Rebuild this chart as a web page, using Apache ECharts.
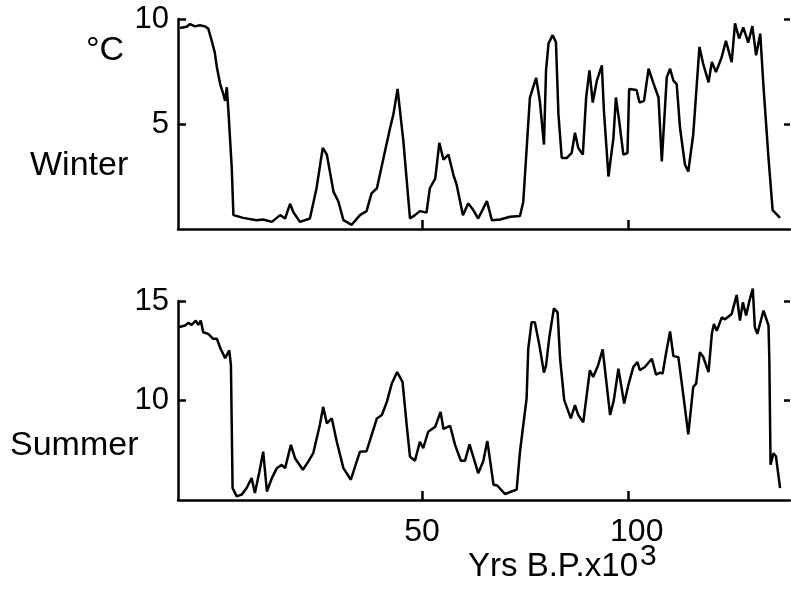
<!DOCTYPE html>
<html>
<head>
<meta charset="utf-8">
<script src="https://cdn.jsdelivr.net/npm/echarts@6/dist/echarts.min.js"></script>
<style>
  html, body { margin: 0; padding: 0; background: #fff; }
  #main { width: 791px; height: 599px; }
</style>
</head>
<body>
<div id="main"></div>
<script>
// ages in kyr BP, temperatures in deg C
var winterAge = [-8.5,-6.9,-6.1,-4.9,-3.7,-2.5,-1.7,-0.9,-0.1,0.4,
  1.2,2.0,2.4,2.8,3.2,4.0,4.4,6.8,10.0,11.6,
  13.7,15.7,16.9,18.1,18.9,20.5,22.9,24.5,26.0,27.0,
  28.6,29.8,31.0,33.0,35.0,36.6,37.8,39.1,40.7,42.3,
  43.1,44.1,45.5,47.1,48.3,49.5,51.1,51.9,53.2,54.2,
  55.2,56.4,57.6,58.4,59.9,61.2,62.4,63.6,65.7,66.9,
  68.9,71.3,73.7,74.5,76.1,77.6,78.5,79.5,80.0,80.6,
  81.6,82.4,83.0,83.8,85.0,86.2,87.0,87.8,88.9,89.7,
  90.5,91.3,92.3,93.5,94.0,95.1,96.3,96.9,97.7,98.7,
  99.7,100.1,101.9,102.6,103.7,104.8,105.9,107.2,108.0,109.2,
  110.0,110.8,111.6,112.4,113.6,114.4,115.6,117.1,118.0,119.3,
  120.1,121.1,122.5,123.5,124.9,125.7,126.7,127.7,128.9,129.9,
  130.8,131.8,132.6,133.8,134.8,136.6];
var winterTemp = [9.57,9.63,9.76,9.65,9.7,9.65,9.55,9.0,8.4,7.7,
  6.9,6.4,6.1,6.75,5.6,2.9,0.66,0.53,0.42,0.45,
  0.34,0.66,0.5,1.2,0.8,0.34,0.5,1.94,3.86,3.54,
  1.78,1.3,0.42,0.2,0.66,0.85,1.7,1.94,3.38,4.82,
  5.47,6.67,4.18,0.5,0.66,0.85,0.78,1.94,2.4,4.1,
  3.3,3.54,2.58,2.1,0.66,1.22,0.9,0.5,1.33,0.42,
  0.45,0.58,0.62,1.3,6.26,7.2,6.1,4.02,7.55,8.83,
  9.23,8.9,5.47,3.38,3.38,3.62,4.58,3.86,3.54,6.26,
  7.55,6.02,7.07,7.79,5.62,2.5,4.34,6.26,5.14,3.54,
  3.62,6.67,6.62,6.02,6.1,7.63,6.98,6.26,3.22,7.23,
  7.63,7.07,6.9,4.82,3.06,2.74,4.5,8.67,7.87,6.98,
  7.95,7.47,8.19,8.96,7.95,9.79,9.07,9.6,8.87,9.66,
  8.27,9.3,6.75,3.38,0.9,0.53];

var summerAge = [-8.9,-7.3,-6.5,-5.7,-4.7,-4.1,-3.5,-2.9,-1.7,-0.5,
  0.4,1.3,2.4,2.8,3.4,3.8,4.2,5.2,6.4,7.6,
  8.8,9.6,10.7,11.6,12.5,13.7,14.9,16.1,16.9,18.3,
  19.3,21.2,22.5,23.7,25.3,26.1,27.0,28.2,29.4,31.0,
  32.8,35.0,36.6,39.1,40.3,41.5,42.7,44.0,45.3,46.3,
  47.1,48.3,49.5,50.3,51.5,53.2,54.5,55.2,56.8,58.0,
  59.4,60.4,61.5,63.6,64.8,65.8,67.3,68.2,70.1,71.3,
  72.9,73.7,75.3,75.7,76.5,77.3,78.4,79.5,80.0,80.8,
  81.9,82.8,83.4,84.4,86.0,87.0,87.8,89.0,90.6,91.4,
  92.6,93.7,94.5,95.5,96.4,97.5,98.9,99.9,101.1,102.1,
  102.7,103.9,105.6,106.6,107.6,108.2,109.0,110.0,110.8,112.0,
  113.2,114.4,115.6,116.3,117.2,118.0,119.3,120.1,120.6,121.3,
  122.5,123.3,124.9,126.1,126.9,127.6,128.4,129.2,130.0,130.5,
  131.1,132.6,133.8,134.0,134.3,135.0,135.6,136.6];
var summerTemp = [13.68,13.77,13.9,13.8,14.02,13.8,14.02,13.43,13.35,13.1,
  13.1,12.6,12.13,12.05,12.52,11.77,5.6,5.18,5.27,5.6,
  6.1,5.35,6.43,7.43,5.43,6.1,6.6,6.77,6.6,7.77,
  7.1,6.52,6.93,7.35,8.77,9.68,8.85,9.1,7.93,6.6,
  6.02,7.43,7.45,9.1,9.27,9.93,10.85,11.43,10.93,8.77,
  7.18,6.97,7.93,7.6,8.43,8.68,9.43,8.57,8.73,7.77,
  6.97,6.97,7.8,6.35,6.93,7.97,5.77,5.73,5.3,5.4,
  5.52,7.43,10.1,12.6,13.93,13.93,12.77,11.4,11.75,13.18,
  14.63,14.43,12.1,10.02,9.1,9.77,9.27,8.9,11.52,11.18,
  11.77,12.57,11.1,9.27,10.02,11.6,9.85,10.77,11.68,11.93,
  11.52,11.68,12.1,11.3,11.4,11.35,12.35,13.47,12.23,12.18,
  10.27,8.3,10.68,10.85,12.43,12.2,11.43,13.35,13.85,13.5,
  14.18,14.08,14.35,15.3,14.02,14.93,14.27,15.02,15.63,13.68,
  13.35,14.52,13.77,12.1,6.77,7.35,7.2,5.6];

var xTicks = [50, 100];
var winterTicks = [5, 10];
var summerTicks = [10, 15];

function pairs(xs, ys) {
  return xs.map(function (x, i) { return [x, ys[i]]; });
}

var FONT = '"Liberation Sans", Arial, Helvetica, sans-serif';
var axisLine = { show: true, onZero: false, lineStyle: { color: '#000', width: 2.5 } };

function xAxisFor(grid, labels) {
  return {
    type: 'value', gridIndex: grid, min: -9, max: 139,
    axisLine: axisLine,
    axisTick: { show: true, inside: true, length: 9, customValues: xTicks, lineStyle: { color: '#000', width: 2.5 } },
    axisLabel: {
      show: labels, customValues: xTicks, margin: 16,
      color: '#000', fontSize: 32, fontFamily: FONT,
      formatter: function (v) { return v === 100 ? '{r|100}' : '{n|' + v + '}'; },
      rich: {
        n: { fontSize: 32, fontFamily: FONT, color: '#000' },
        r: { fontSize: 32, fontFamily: FONT, color: '#000', padding: [0, 0, 0, 16] }
      }
    },
    splitLine: { show: false }
  };
}

function yAxisFor(grid, min, max, ticks, right) {
  return {
    type: 'value', gridIndex: grid, min: min, max: max,
    position: right ? 'right' : 'left',
    axisLine: right ? { show: false, onZero: false } : axisLine,
    axisTick: { show: true, inside: true, length: right ? 6 : 8, customValues: ticks, lineStyle: { color: '#000', width: 2.5 } },
    axisLabel: { show: !right, customValues: ticks, margin: 9, color: '#000', fontSize: 31, fontFamily: FONT },
    splitLine: { show: false }
  };
}

var myChart = echarts.init(document.getElementById('main'));
var option = {
  animation: false,
  backgroundColor: '#fff',
  grid: [
    { left: 178, right: 1, top: 19, height: 210 },
    { left: 178, right: 1, top: 301, height: 199 }
  ],
  xAxis: [xAxisFor(0, false), xAxisFor(1, true)],
  yAxis: [
    yAxisFor(0, 0, 10, winterTicks, false),
    yAxisFor(0, 0, 10, winterTicks, true),
    yAxisFor(1, 5, 15, summerTicks, false),
    yAxisFor(1, 5, 15, summerTicks, true)
  ],
  graphic: [
    { type: 'text', left: 86, top: 34, style: { text: '°C', fontSize: 34, fontFamily: FONT, fill: '#000' } },
    { type: 'text', left: 30, top: 149, style: { text: 'Winter', fontSize: 34, fontFamily: FONT, fill: '#000' } },
    { type: 'text', left: 10, top: 429, style: { text: 'Summer', fontSize: 34, fontFamily: FONT, fill: '#000' } },
    { type: 'text', left: 468, top: 550, style: { text: 'Yrs B.P.x10', fontSize: 33, fontFamily: FONT, fill: '#000' } },
    { type: 'text', left: 640, top: 542, style: { text: '3', fontSize: 30, fontFamily: FONT, fill: '#000' } }
  ],
  series: [
    {
      name: 'Winter', type: 'line', xAxisIndex: 0, yAxisIndex: 0,
      data: pairs(winterAge, winterTemp),
      showSymbol: false, clip: false,
      lineStyle: { color: '#000', width: 2.5 }
    },
    {
      name: 'Summer', type: 'line', xAxisIndex: 1, yAxisIndex: 2,
      data: pairs(summerAge, summerTemp),
      showSymbol: false, clip: false,
      lineStyle: { color: '#000', width: 2.5 }
    }
  ]
};
myChart.setOption(option);
</script>
</body>
</html>
